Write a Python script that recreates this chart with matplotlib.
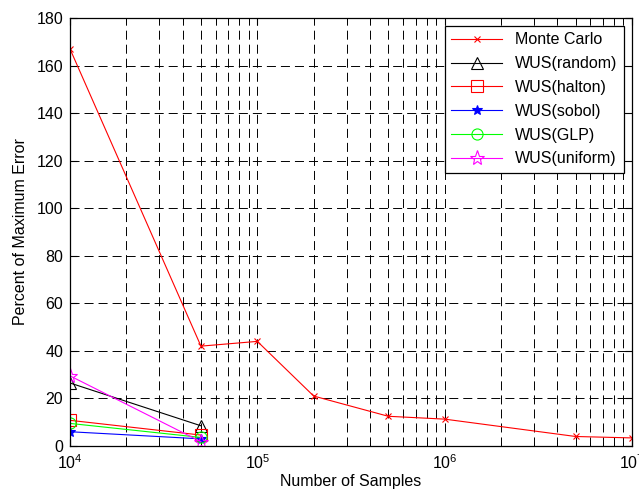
import numpy as np
import matplotlib.pyplot as plt

plt.rcParams['font.family'] = ['Liberation Sans', 'DejaVu Sans']
plt.rcParams['font.size'] = 11.5
plt.rcParams['lines.scale_dashes'] = False

# Monte Carlo error over sample count
mc_n = [1e4, 5e4, 1e5, 2e5, 5e5, 1e6, 5e6, 1e7]
mc_err = [167, 42, 44, 21, 12.5, 11.3, 4.0, 3.4]

# WUS variants, two sample sizes each
wus_n = [1e4, 5e4]
wus_random = [26.5, 8.5]
wus_halton = [10.8, 4.6]
wus_sobol = [6.0, 3.0]
wus_glp = [9.5, 3.6]
wus_uniform = [29.5, 1.8]

fig = plt.figure(figsize=(6.39, 4.95), dpi=100)
ax = fig.add_axes([70 / 639, 49 / 495, 562 / 639, 428 / 495])

ax.semilogx(mc_n, mc_err, 'r-x', lw=0.8, ms=5, mew=0.8, label='Monte Carlo')
ax.semilogx(wus_n, wus_random, 'k-^', lw=0.8, ms=9, mfc='none', mew=0.8, label='WUS(random)')
ax.semilogx(wus_n, wus_halton, 'r-s', lw=0.8, ms=9, mfc='none', mew=0.8, label='WUS(halton)')
ax.semilogx(wus_n, wus_sobol, 'b-*', lw=0.8, ms=7, mew=0.8, label='WUS(sobol)')
ax.semilogx(wus_n, wus_glp, '-o', color=(0, 1, 0), lw=0.8, ms=8, mfc='none', mew=0.8, label='WUS(GLP)')
ax.semilogx(wus_n, wus_uniform, '-*', color=(1, 0, 1), lw=0.8, ms=11, mfc='none', mew=0.8,
            label='WUS(uniform)')

ax.set_xlim(1e4, 1e7)
ax.set_ylim(0, 180)
ax.set_yticks(np.arange(0, 181, 20))

ax.grid(True, which='major', axis='both', color='k', ls=(0, (6.5, 3.6)), lw=0.7)
ax.grid(True, which='minor', axis='x', color='k', ls=(0, (6.5, 3.6)), lw=0.7)
ax.tick_params(which='both', direction='in', top=True, right=True, labelsize=11.5)
ax.tick_params(which='major', length=5, pad=5)
ax.tick_params(which='minor', length=3)
for s in ax.spines.values():
    s.set_linewidth(0.9)

ax.set_xlabel('Number of Samples', labelpad=2)
ax.set_ylabel('Percent of Maximum Error', labelpad=6)

leg = ax.legend(loc='upper right', fancybox=False, edgecolor='k', framealpha=1,
                borderaxespad=0.5, handlelength=3.2, labelspacing=0.55)
leg.get_frame().set_linewidth(0.9)

fig.savefig('out.png', dpi=100)
